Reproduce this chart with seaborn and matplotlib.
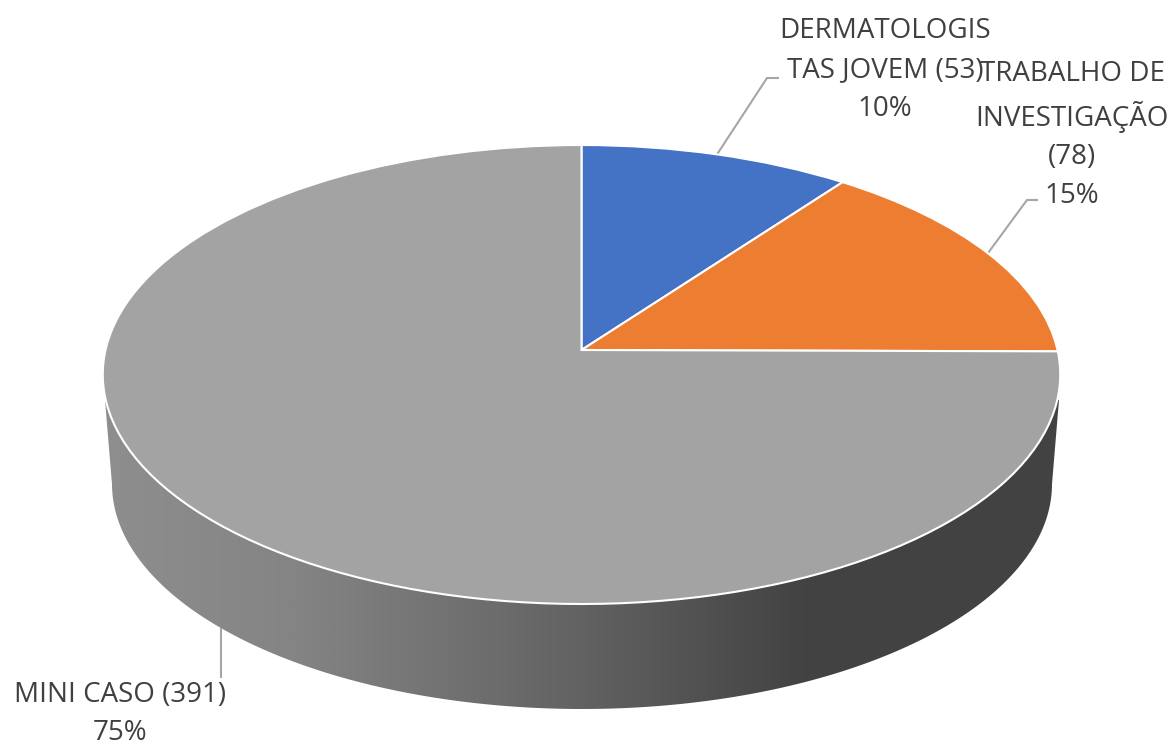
import numpy as np
import matplotlib
matplotlib.use("Agg")
import matplotlib.pyplot as plt
import seaborn as sns
from matplotlib.colors import LinearSegmentedColormap
from matplotlib.patches import Polygon
from matplotlib.transforms import Transform

# ---- data ----
categories = ["DERMATOLOGIS\nTAS JOVEM (53)", "TRABALHO DE\nINVESTIGAÇÃO\n(78)", "MINI CASO (391)"]
values = [53, 78, 391]
percent_labels = ["10%", "15%", "75%"]
colors = ["#4472C4", "#ED7D31", "#A3A3A3"]

wall_stops = [(0.0, "#8E8E8E"), (0.2, "#848484"), (0.5, "#626262"), (0.73, "#434343"), (1.0, "#424242")]

sns.set_theme(style="white")
plt.rcParams["font.family"] = ["Open Sans", "DejaVu Sans"]

CX, CY = 581.5, 350.0
RX = 476.0
PERSP = 0.10675
RY = -189.5
DEPTH = 105.0


class Perspective(Transform):
    """Tilts the unit pie into picture space."""
    input_dims = output_dims = 2

    def transform_non_affine(self, xy):
        xy = np.asarray(xy, dtype=float)
        d = 1 + PERSP * xy[:, 1]
        return np.column_stack((CX + RX * xy[:, 0] / d, (RY * xy[:, 1] + CY) / d))

    def inverted(self):
        raise NotImplementedError


H = Perspective()
fig = plt.figure(figsize=(11.71, 7.49), dpi=100, facecolor="white")
ax = fig.add_axes([0, 0, 1, 1])

wedges, _ = ax.pie(values, colors=sns.color_palette(colors), startangle=90, counterclock=False,
                   radius=1, wedgeprops=dict(edgecolor="white", linewidth=1.5))
ax.set_aspect("auto")
for w in wedges:
    w.set_transform(H + ax.transData)
    w.set_zorder(3)

# side wall of the disc
t = np.linspace(0, np.pi, 200)
bx, by = 582 + 470 * np.cos(t), 484 + 225 * np.sin(t)
wall_xy = np.vstack(([[1059, 400]], np.column_stack((bx, by)), [[105, 400]], [[582, 300]]))
wall = Polygon(wall_xy, closed=True, transform=ax.transData, facecolor="none", edgecolor="none")
ax.add_patch(wall)
cmap = LinearSegmentedColormap.from_list("wall", wall_stops)
img = ax.imshow(np.linspace(0, 1, 512).reshape(1, -1), extent=(104, 1060, 710, 300), cmap=cmap,
                aspect="auto", zorder=1, interpolation="bilinear")
img.set_clip_path(wall)

ax.set_xlim(0, 1171)
ax.set_ylim(749, 0)
ax.axis("off")

# leader lines, anchored on each slice's middle angle
fractions = np.array(values) / np.sum(values)
mids = np.deg2rad(90 - 360 * (np.cumsum(fractions) - fractions / 2))
anchors = H.transform(np.column_stack((np.cos(mids), np.sin(mids))))
anchors[2, 1] += DEPTH
anchors[2, 0] += 5
elbows = [[(767, 78), (779, 78)], [(1027, 200), (1038, 200)], [(anchors[2, 0], 678)]]
for a, e in zip(anchors, elbows):
    pts = np.vstack(([a], e))
    ax.plot(pts[:, 0], pts[:, 1], color="#A6A6A6", lw=1.5, zorder=2, solid_capstyle="butt")

# labels
label_pos = [(885, 70), (1072, 135), (120, 714)]
for cat, pct, (x, y) in zip(categories, percent_labels, label_pos):
    ax.text(x, y, f"{cat}\n{pct}", ha="center", va="center", fontsize=20, color="#404040",
            linespacing=1.52, zorder=5)

fig.savefig("out.png", dpi=100, facecolor="white")
